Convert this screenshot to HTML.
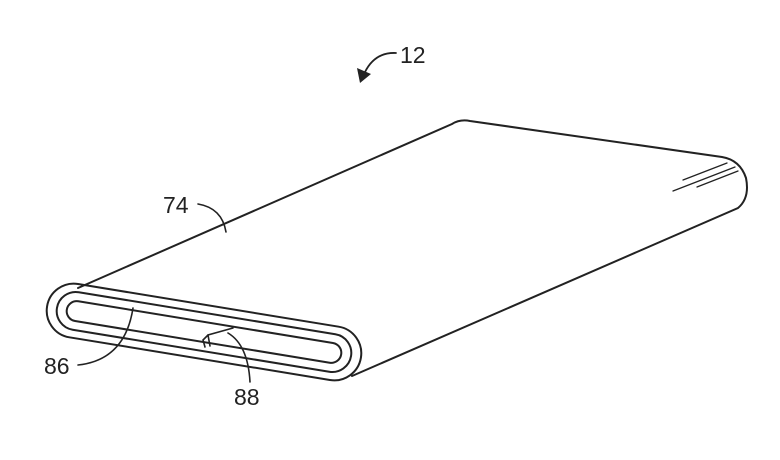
<!DOCTYPE html>
<html><head><style>html,body{margin:0;padding:0;background:#fff;}svg{display:block}</style></head>
<body>
<svg width="780" height="460" viewBox="0 0 780 460" xmlns="http://www.w3.org/2000/svg">
<g fill="none" stroke="#222" stroke-width="2" stroke-linecap="round">
  <path d="M78,288 L452,124 Q460,119 470,121 L722,157 Q740,160 746,178 Q750,198 738,208 L352,376"/>
  <line x1="683" y1="180" x2="727" y2="163" stroke-width="1.3"/>
  <line x1="673" y1="191" x2="735" y2="167" stroke-width="1.3"/>
  <line x1="697" y1="187" x2="738" y2="171" stroke-width="1.3"/>
  <g transform="translate(204,332) rotate(9.3)">
    <rect x="-159" y="-27" width="318" height="54" rx="27"/>
    <rect x="-149" y="-19" width="298" height="38" rx="19"/>
    <rect x="-139" y="-10" width="278" height="20" rx="10"/>
  </g>
  <path d="M233,328 L208,335 L203,340 L205,347" stroke-width="1.6"/>
  <path d="M208,335 L210,346" stroke-width="1.6"/>
  <path d="M78,365 Q125,360 133,308" stroke-width="1.6"/>
  <path d="M250,382 Q248,345 228,333" stroke-width="1.6"/>
  <path d="M198,204 Q222,208 226,232" stroke-width="1.6"/>
  <path d="M396,53 Q375,52 365,72" stroke-width="1.8"/>
</g>
<polygon points="360,83 357,68 371,74" fill="#222"/>
<g font-family="Liberation Sans, sans-serif" font-size="23" fill="#222">
  <text x="400" y="63">12</text>
  <text x="163" y="213">74</text>
  <text x="44" y="374">86</text>
  <text x="234" y="405">88</text>
</g>
</svg>
</body></html>
